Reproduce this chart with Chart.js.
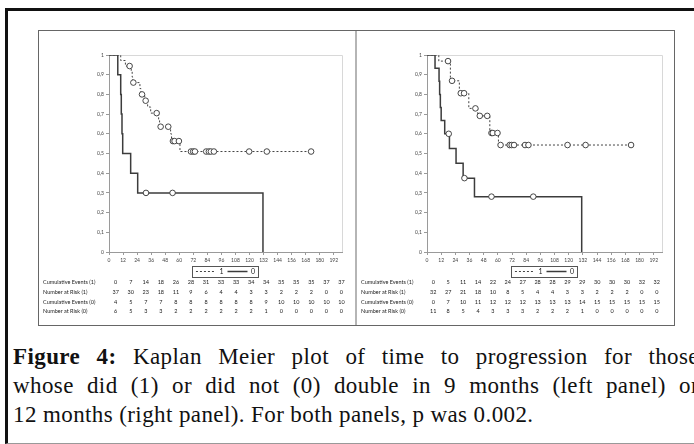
<!DOCTYPE html>
<html>
<head>
<meta charset="utf-8">
<script src="https://cdn.jsdelivr.net/npm/chart.js@4.4.1/dist/chart.umd.min.js"></script>
<style>
  body { margin:0; width:694px; height:444px; overflow:hidden; background:#fff; position:relative; font-family:Lato, Arial, sans-serif; }
  #outer { position:absolute; left:5px; top:8px; width:760px; height:432px; border-left:3px solid #111; border-top:3px solid #111; border-bottom:1px solid #999; }
  #frame { position:absolute; left:38px; top:30px; width:635px; height:294px; border:1px solid #666; }
  #divider { position:absolute; left:355px; top:31px; width:2px; height:294px; background:#b5b5b5; }
  .chartbox { position:absolute; top:30px; width:318px; height:256px; }
  .risk { position:absolute; font-size:5.5px; color:#222; white-space:nowrap; line-height:6px; }
  .cap { position:absolute; left:13px; width:686px; font-family:"Liberation Serif", serif; font-size:23px; letter-spacing:0.4px; color:#111; line-height:26px; white-space:nowrap; }
  .just { text-align:justify; text-align-last:justify; white-space:normal; }
</style>
</head>
<body>
<div id="outer"></div>
<div id="frame"></div>
<div id="divider"></div>
<div class="chartbox" style="left:38px"><canvas id="kmLeft" width="318" height="256"></canvas></div>
<div class="chartbox" style="left:356px"><canvas id="kmRight" width="318" height="256"></canvas></div>
<div id="riskTables"></div>
<div class="cap just" style="top:344px"><b>Figure 4:</b> Kaplan Meier plot of time to progression for those</div>
<div class="cap just" style="top:373px">whose did (1) or did not (0) double in 9 months (left panel) or</div>
<div class="cap" style="top:402px">12 months (right panel). For both panels, p was 0.002.</div>

<script>
// axis ticks
var xTicks = [0, 12, 24, 36, 48, 60, 72, 84, 96, 108, 120, 132, 144, 156, 168, 180, 192];
var yTicks = [0, 0.1, 0.2, 0.3, 0.4, 0.5, 0.6, 0.7, 0.8, 0.9, 1];
var yTickLabels = ['0', '0,1', '0,2', '0,3', '0,4', '0,5', '0,6', '0,7', '0,8', '0,9', '1'];

// left panel (9 months) - group 1, dashed
var left1Times = [0, 10, 14, 19, 19.8, 20.3, 26.4, 27.2, 30.5, 33, 35.6, 42.4, 43.2, 52.6, 53.4, 60.6];
var left1Surv  = [1, 0.972, 0.944, 0.916, 0.888, 0.86, 0.83, 0.80, 0.768, 0.736, 0.705, 0.67, 0.636, 0.60, 0.563, 0.51];
var left1Cens  = [17.6, 20.8, 28.2, 31.3, 40.7, 44.1, 50.6, 54.6, 56, 59.7, 70, 71.9, 73.4, 83, 85.3, 87, 89.6, 119.7, 134.8, 172.6];
// left panel - group 0, solid
var left0Times = [0, 7.5, 10, 10.5, 11.1, 11.7, 18.5, 24.5, 131.5];
var left0Surv  = [1, 0.9, 0.8, 0.7, 0.6, 0.5, 0.4, 0.3, 0];
var left0Cens  = [31.6, 54.3];

// right panel (12 months) - group 1, dashed
var right1Times = [0, 10, 19.8, 27.4, 35.4, 43, 53.2, 60.5];
var right1Surv  = [1, 0.969, 0.869, 0.806, 0.729, 0.691, 0.604, 0.543];
var right1Cens  = [17.8, 21.2, 28.6, 31.4, 41, 44.7, 51, 54.6, 55.7, 59.7, 62.3, 70, 71.7, 73.7, 83, 85.9, 119, 134.3, 172.8];
// right panel - group 0, solid
var right0Times = [0, 6.8, 10.2, 10.7, 11.3, 12, 15, 19, 24.6, 30.6, 40.2, 131];
var right0Surv  = [1, 0.933, 0.867, 0.8, 0.733, 0.667, 0.6, 0.525, 0.45, 0.375, 0.281, 0];
var right0Cens  = [18.4, 31.7, 54.6, 90];

// risk tables
var riskLabels = ['Cumulative Events (1)', 'Number at Risk (1)', 'Cumulative Events (0)', 'Number at Risk (0)'];
var leftCumEvents1 = [0, 7, 14, 18, 26, 28, 31, 33, 33, 34, 34, 35, 35, 35, 37, 37];
var leftAtRisk1    = [37, 30, 23, 18, 11, 9, 6, 4, 4, 3, 3, 2, 2, 2, 0, 0];
var leftCumEvents0 = [4, 5, 7, 7, 8, 8, 8, 8, 8, 8, 9, 10, 10, 10, 10, 10];
var leftAtRisk0    = [6, 5, 3, 3, 2, 2, 2, 2, 2, 2, 1, 0, 0, 0, 0, 0];
var rightCumEvents1 = [0, 5, 11, 14, 22, 24, 27, 28, 28, 29, 29, 30, 30, 30, 32, 32];
var rightAtRisk1    = [32, 27, 21, 18, 10, 8, 5, 4, 4, 3, 3, 2, 2, 2, 0, 0];
var rightCumEvents0 = [0, 7, 10, 11, 12, 12, 12, 13, 13, 13, 14, 15, 15, 15, 15, 15];
var rightAtRisk0    = [11, 8, 5, 4, 3, 3, 3, 2, 2, 2, 1, 0, 0, 0, 0, 0];

Chart.defaults.font.family = 'Lato, Arial, sans-serif';

// step points + censor marks, sorted by time
function kmPoints(times, surv, cens) {
    var pts = times.map(function (t, i) { return { x: t, y: surv[i], c: false }; });
    cens.forEach(function (t) {
        var s = 1;
        times.forEach(function (tt, i) { if (tt <= t) s = surv[i]; });
        pts.push({ x: t, y: s, c: true });
    });
    pts.sort(function (a, b) { return a.x - b.x; });
    return pts;
}

function kmDataset(label, pts, dashed) {
    return {
        label: label,
        data: pts,
        stepped: true,
        borderColor: dashed ? '#444' : '#3c3c3c',
        borderWidth: dashed ? 1 : 1.5,
        borderDash: dashed ? [2, 2] : [],
        pointRadius: function (c) { return c.raw && c.raw.c ? 2.8 : 0; },
        pointBackgroundColor: '#fff',
        pointBorderColor: '#333',
        pointBorderWidth: 0.9,
        pointStyle: 'circle',
        fill: false
    };
}

// light top/right border of the plot area
var plotFrame = {
    id: 'plotFrame',
    beforeDatasetsDraw: function (chart) {
        var a = chart.chartArea, ctx = chart.ctx;
        ctx.save();
        ctx.strokeStyle = '#d8d8d8';
        ctx.lineWidth = 1;
        ctx.beginPath();
        ctx.moveTo(a.left, a.top + 0.5);
        ctx.lineTo(a.right + 0.5, a.top + 0.5);
        ctx.lineTo(a.right + 0.5, a.bottom);
        ctx.stroke();
        ctx.restore();
    }
};

// box round the legend
var legendFrame = {
    id: 'legendFrame',
    afterDraw: function (chart) {
        var lg = chart.legend;
        if (!lg || !lg.legendHitBoxes || !lg.legendHitBoxes.length) return;
        var hb = lg.legendHitBoxes, ctx = chart.ctx;
        var l = Math.min.apply(null, hb.map(function (b) { return b.left; })) - 4;
        var r = Math.max.apply(null, hb.map(function (b) { return b.left + b.width; })) + 3;
        var t = hb[0].top - 2, bt = hb[0].top + hb[0].height + 2;
        ctx.save();
        ctx.strokeStyle = '#555';
        ctx.lineWidth = 1;
        ctx.strokeRect(Math.round(l) + 0.5, Math.round(t) + 0.5, Math.round(r - l), Math.round(bt - t));
        ctx.restore();
    }
};

function drawKm(id, set1, set0, padRight) {
    var ctx = document.getElementById(id).getContext('2d');
    new Chart(ctx, {
        type: 'line',
        data: { datasets: [kmDataset('1', set1, true), kmDataset('0', set0, false)] },
        options: {
            responsive: false,
            animation: false,
            layout: { padding: { left: 0, right: padRight, top: 25, bottom: 1 } },
            plugins: {
                tooltip: { enabled: false },
                legend: {
                    position: 'bottom',
                    fullSize: false,
                    labels: {
                        usePointStyle: true,
                        pointStyle: 'line',
                        pointStyleWidth: 20,
                        boxHeight: 6,
                        padding: 4,
                        color: '#222',
                        font: { size: 7 },
                        generateLabels: function (chart) {
                            var items = Chart.defaults.plugins.legend.labels.generateLabels(chart);
                            items.forEach(function (it) {
                                var ds = chart.data.datasets[it.datasetIndex];
                                it.lineDash = ds.borderDash;
                                it.lineWidth = ds.borderWidth;
                                it.strokeStyle = ds.borderColor;
                            });
                            return items;
                        }
                    }
                }
            },
            scales: {
                x: {
                    type: 'linear', min: 0, max: 199,
                    border: { color: '#9a9a9a' },
                    grid: { drawOnChartArea: false, tickLength: 3, color: '#9a9a9a' },
                    ticks: { font: { size: 5 }, color: '#444', padding: 2, maxRotation: 0, autoSkip: false },
                    afterBuildTicks: function (s) { s.ticks = xTicks.map(function (v) { return { value: v }; }); },
                    afterFit: function (s) { s.height = 12; }
                },
                y: {
                    type: 'linear', min: 0, max: 1,
                    border: { color: '#9a9a9a' },
                    grid: { drawOnChartArea: false, tickLength: 3, color: '#9a9a9a' },
                    ticks: {
                        font: { size: 5 }, color: '#444', padding: 2,
                        callback: function (v) { var i = yTicks.findIndex(function (t) { return Math.abs(t - v) < 1e-6; }); return i >= 0 ? yTickLabels[i] : ''; }
                    },
                    afterBuildTicks: function (s) { s.ticks = yTicks.map(function (v) { return { value: v }; }); },
                    afterFit: function (s) { s.width = 71; }
                }
            }
        },
        plugins: [plotFrame, legendFrame]
    });
}

drawKm('kmLeft', kmPoints(left1Times, left1Surv, left1Cens), kmPoints(left0Times, left0Surv, left0Cens), 14);
drawKm('kmRight', kmPoints(right1Times, right1Surv, right1Cens), kmPoints(right0Times, right0Surv, right0Cens), 12);

// risk tables under each panel
function riskTable(labelX, firstCol, colStep, rows) {
    var host = document.getElementById('riskTables');
    var rowY = [278.5, 288.5, 298.5, 308];
    rows.forEach(function (vals, r) {
        var lab = document.createElement('div');
        lab.className = 'risk';
        lab.style.left = labelX + 'px';
        lab.style.top = rowY[r] + 'px';
        lab.textContent = riskLabels[r];
        host.appendChild(lab);
        vals.forEach(function (v, i) {
            var d = document.createElement('div');
            d.className = 'risk';
            d.style.left = (firstCol + colStep * i - 10) + 'px';
            d.style.width = '20px';
            d.style.textAlign = 'center';
            d.style.top = rowY[r] + 'px';
            d.textContent = v;
            host.appendChild(d);
        });
    });
}
riskTable(43, 115.7, 15.05, [leftCumEvents1, leftAtRisk1, leftCumEvents0, leftAtRisk0]);
riskTable(361, 433.3, 14.9, [rightCumEvents1, rightAtRisk1, rightCumEvents0, rightAtRisk0]);
</script>
</body>
</html>
